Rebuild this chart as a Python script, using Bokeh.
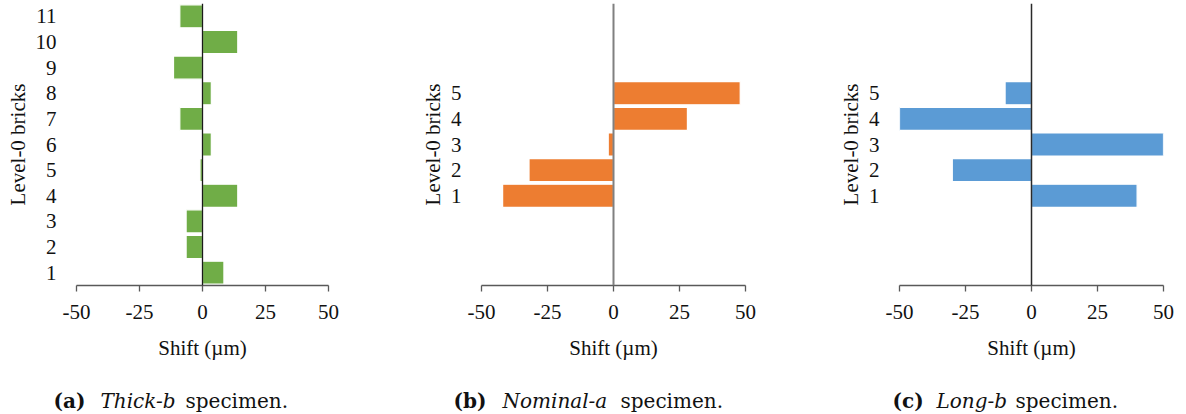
from bokeh.plotting import figure
from bokeh.layouts import row, column
from bokeh.models import FixedTicker, Range1d, Span, ColumnDataSource
from bokeh.core.properties import value
from bokeh.embed import file_html
from bokeh.resources import INLINE

# Level-0 brick shifts (µm) for each specimen
thick_bricks = [1, 2, 3, 4, 5, 6, 7, 8, 9, 10, 11]
thick_shift = [8.5, -6.5, -6.5, 14, -1, 3.5, -9, 3.5, -11.5, 14, -9]

nominal_bricks = [1, 2, 3, 4, 5]
nominal_shift = [-42, -32, -2, 28, 48]

long_bricks = [1, 2, 3, 4, 5]
long_shift = [40, -30, 50, -50, -10]

shift_ticks = [-50, -25, 0, 25, 50]
shift_tick_labels = ["-50", "-25", "0", "25", "50"]

# Sub-figure captions: (label, specimen name, trailing word)
captions = [("(a)", "Thick-b", "specimen."),
            ("(b)", "Nominal-a", "specimen."),
            ("(c)", "Long-b", "specimen.")]

FONT = "Liberation Serif"
CAPTION_FONT = "DejaVu Serif"
AXIS_GREY = "#595959"
TEXT = "#111111"


def panel(bricks, shifts, colour, y_range, width, left, right, zero_colour, zero_width):
    p = figure(width=width, height=375, output_backend="svg", toolbar_location=None,
               x_range=Range1d(-50, 50), y_range=Range1d(*y_range),
               min_border_left=left, min_border_right=right,
               min_border_top=3, min_border_bottom=90)
    p.outline_line_color = None
    p.grid.visible = False

    src = ColumnDataSource(dict(y=bricks, right=shifts))
    p.hbar(y="y", left=0, right="right", height=0.9, source=src,
           fill_color=colour, line_color="white", line_width=1.2)

    p.add_layout(Span(location=0, dimension="height",
                      line_color=zero_colour, line_width=zero_width))

    xa = p.xaxis[0]
    xa.ticker = FixedTicker(ticks=shift_ticks)
    xa.major_label_overrides = dict(zip(shift_ticks, shift_tick_labels))
    xa.axis_line_color = AXIS_GREY
    xa.axis_line_width = 1.3
    xa.major_tick_line_color = AXIS_GREY
    xa.major_tick_line_width = 1.3
    xa.major_tick_out = 6
    xa.major_tick_in = 0
    xa.minor_tick_out = 0
    xa.minor_tick_in = 0
    xa.major_label_text_font = FONT
    xa.major_label_text_font_size = "21px"
    xa.major_label_text_color = TEXT
    xa.major_label_standoff = 13
    xa.axis_label = "Shift (µm)"
    xa.axis_label_text_font = FONT
    xa.axis_label_text_font_size = "21px"
    xa.axis_label_text_font_style = "normal"
    xa.axis_label_text_color = TEXT
    xa.axis_label_standoff = 14

    ya = p.yaxis[0]
    ya.ticker = FixedTicker(ticks=bricks)
    ya.axis_line_color = None
    ya.major_tick_line_color = None
    ya.minor_tick_line_color = None
    ya.major_label_text_font = FONT
    ya.major_label_text_font_size = "21px"
    ya.major_label_text_color = TEXT
    ya.major_label_standoff = 14
    ya.axis_label = "Level-0 bricks"
    ya.axis_label_text_font = FONT
    ya.axis_label_text_font_size = "21px"
    ya.axis_label_text_font_style = "normal"
    ya.axis_label_text_color = TEXT
    ya.axis_label_standoff = 3
    return p


pa = panel(thick_bricks, thick_shift, "#70AD47", (0.5, 11.5), 400, 76, 72, "#1a1a1a", 1.3)
pb = panel(nominal_bricks, nominal_shift, "#ED7D31", (-2.5, 8.5), 415, 81, 70, "#808080", 2)
pc = panel(long_bricks, long_shift, "#5B9BD5", (-2.5, 8.5), 371, 84, 23, "#2a2a2a", 1.5)

# Caption strip underneath the three panels
cap = figure(width=1186, height=39, output_backend="svg", toolbar_location=None,
             x_range=Range1d(0, 1186), y_range=Range1d(0, 39),
             min_border=0, min_border_left=0, min_border_right=0,
             min_border_top=0, min_border_bottom=0)
cap.axis.visible = False
cap.grid.visible = False
cap.outline_line_color = None

cap_x = {"label": [53, 453, 892], "name": [100, 502, 936], "word": [185, 620, 1015]}
styles = {"label": "bold", "name": "italic", "word": "normal"}
for i, key in enumerate(["label", "name", "word"]):
    cap.text(x=cap_x[key], y=[14, 14, 14], text=[c[i] for c in captions],
             text_font=value(CAPTION_FONT), text_font_size="20px",
             text_font_style=styles[key], text_color=TEXT,
             text_align="left", text_baseline="alphabetic")

layout = column(row(pa, pb, pc, spacing=0), cap, spacing=0)
open("out.html", "w").write(file_html(layout, INLINE))
